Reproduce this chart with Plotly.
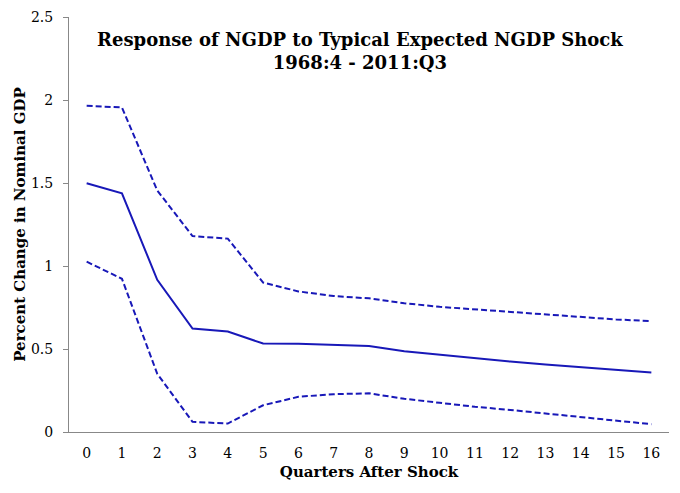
import plotly.graph_objects as go

quarters = [str(i) for i in range(17)]
upper = [1.965, 1.955, 1.455, 1.18, 1.165, 0.90, 0.847, 0.819, 0.805, 0.776, 0.754, 0.738, 0.722, 0.708, 0.694, 0.678, 0.668]
central = [1.498, 1.438, 0.917, 0.623, 0.605, 0.533, 0.531, 0.526, 0.518, 0.486, 0.464, 0.442, 0.424, 0.406, 0.389, 0.373, 0.359]
lower = [1.026, 0.923, 0.351, 0.061, 0.051, 0.161, 0.212, 0.228, 0.233, 0.200, 0.176, 0.152, 0.133, 0.111, 0.089, 0.067, 0.047]
y_ticks = [0, 0.5, 1, 1.5, 2, 2.5]
y_tick_labels = ["0", "0.5", "1", "1.5", "2", "2.5"]

title_line1 = "Response of NGDP to Typical Expected NGDP Shock"
title_line2 = "1968:4 - 2011:Q3"

color = "#1818B8"
serif = "DejaVu Serif"

fig = go.Figure()
fig.add_trace(go.Scatter(x=quarters, y=upper, mode="lines",
                         line=dict(color=color, width=2, dash="6px,3px"), showlegend=False))
fig.add_trace(go.Scatter(x=quarters, y=central, mode="lines",
                         line=dict(color=color, width=2), showlegend=False))
fig.add_trace(go.Scatter(x=quarters, y=lower, mode="lines",
                         line=dict(color=color, width=2, dash="6px,3px"), showlegend=False))

# page body has an 8px margin: figure sized to fit inside the 680x493 window
fig.update_layout(
    width=672, height=485,
    margin=dict(l=61, r=11, t=9, b=61),
    paper_bgcolor="white", plot_bgcolor="white",
    font=dict(family=serif, color="black", size=13),
    xaxis=dict(type="category", range=[-0.5, 16.5], showline=True, linecolor="#888888",
               linewidth=1, ticks="", showgrid=False, zeroline=False, automargin=False,
               ticklabelstandoff=8,
               tickfont=dict(family=serif, size=14),
               title=dict(text="<b>Quarters After Shock</b>", font=dict(family=serif, size=15), standoff=6)),
    yaxis=dict(range=[0, 2.5], tickvals=y_ticks, ticktext=y_tick_labels, showline=True,
               linecolor="#888888", linewidth=1, ticks="outside", ticklen=5, tickcolor="#888888",
               ticklabelstandoff=7,
               showgrid=False, zeroline=False, automargin=False, tickfont=dict(family=serif, size=14),
               title=dict(text="<b>Percent Change in Nominal GDP</b>", font=dict(family=serif, size=15), standoff=1)),
    annotations=[
        dict(text="<b>" + title_line1 + "</b><br><b>" + title_line2 + "</b>",
             xref="paper", yref="paper", x=0.485, y=0.976, xanchor="center", yanchor="top",
             showarrow=False, font=dict(family=serif, size=18, color="black")),
    ],
)

fig.write_html("out.html")
